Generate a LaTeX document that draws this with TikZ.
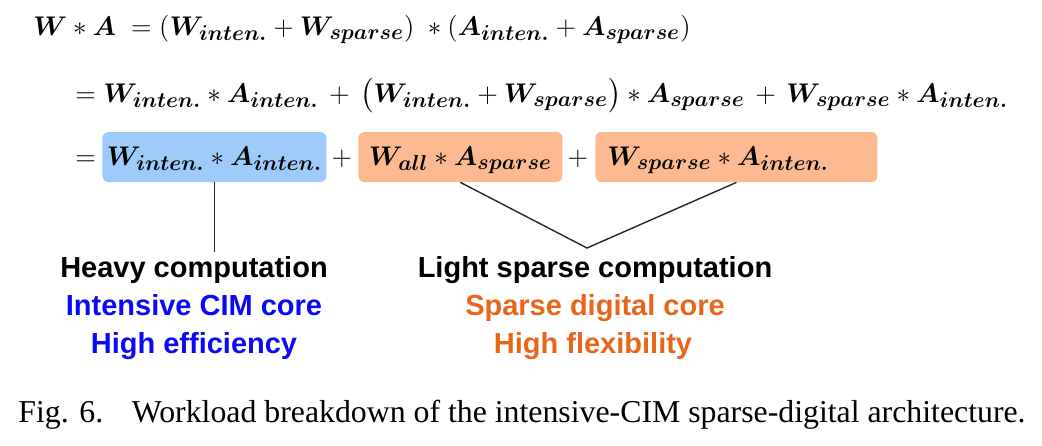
\RequirePackage{fix-cm}
\documentclass[tikz,border=0pt]{standalone}
\usepackage{amsmath}
\usepackage{bm}
\usepackage{fontspec}
\setsansfont{Liberation Sans}
\newfontfamily\captionfont{Liberation Serif}
\usepackage{xcolor}
\definecolor{boxblue}{RGB}{157,203,250}
\definecolor{boxorange}{RGB}{253,186,145}
\definecolor{cimblue}{RGB}{10,10,245}
\definecolor{digorange}{RGB}{232,102,28}
\DeclareMathSizes{13.5}{13.5}{10.8}{8}
\newcommand{\subtxt}[1]{_{\bm{#1}}}
\tikzset{
	eqline/.style={anchor=base west, inner sep=0pt, font=\fontsize{13.5}{16}\selectfont},
	termbox/.style={anchor=base west, inner ysep=0pt, inner xsep=0pt, rounded corners=3pt,
		text height=16.5pt, text depth=8.5pt, font=\fontsize{13.5}{16}\selectfont},
	heading/.style={anchor=base, inner sep=2pt, font=\sffamily\bfseries\fontsize{14.5}{17}\selectfont},
	link/.style={line width=0.7pt, black!85},
}

\begin{document}
\begin{tikzpicture}[x=0.5pt, y=-0.5pt]
	\useasboundingbox (0,0) rectangle (1042,445);
	% first two lines of the expansion
	\node[eqline] (line1) at (33,35) {$\bm{W} * \bm{A}\; = (\bm{W}\subtxt{inten.} + \bm{W}\subtxt{sparse})\; * (\bm{A}\subtxt{inten.} + \bm{A}\subtxt{sparse})$};
	\node[eqline] (line2) at (75,102) {$= \bm{W}\subtxt{inten.} * \bm{A}\subtxt{inten.}\, + \,\big(\bm{W}\subtxt{inten.} + \bm{W}\subtxt{sparse}\big) * \bm{A}\subtxt{sparse}\, + \,\bm{W}\subtxt{sparse} * \bm{A}\subtxt{inten.}$};
	% third line with the grouped terms
	\node[eqline] (eq3) at (75,165) {$=$};
	\node[termbox, fill=boxblue, minimum width=112pt] (inten) at (102,165) {$\bm{W}\subtxt{inten.} * \bm{A}\subtxt{inten.}$};
	\node[eqline, anchor=base] (plus1) at (342,165) {$+$};
	\node[termbox, fill=boxorange, minimum width=102pt] (wall) at (358,165) {$\bm{W}\subtxt{all} * \bm{A}\subtxt{sparse}$};
	\node[eqline, anchor=base] (plus2) at (578,165) {$+$};
	\node[termbox, fill=boxorange, text width=129pt, align=left, inner xsep=6pt] (wsparse) at (595,165) {$\bm{W}\subtxt{sparse} * \bm{A}\subtxt{inten.}$};
	% labels
	\node[heading] (heavy) at (194,277) {Heavy computation};
	\node[heading, text=cimblue] (cimcore) at (194,315) {Intensive CIM core};
	\node[heading, text=cimblue] (effic) at (194,353) {High efficiency};
	\node[heading] (light) at (595,277) {Light sparse computation};
	\node[heading, text=digorange] (digcore) at (595,315) {Sparse digital core};
	\node[heading, text=digorange] (flex) at (593,353) {High flexibility};
	\coordinate (apex) at (587,248);
	\draw[link] (inten.south) -- (inten.south |- heavy.north);
	\draw[link] (wall.south) -- (apex) -- (wsparse.south);
	% caption
	\node[anchor=base west, inner sep=0pt, font=\captionfont\fontsize{15.9}{19}\selectfont] (caption) at (18,422) {Fig. 6.\hspace{0.9em}Workload breakdown of the intensive-CIM sparse-digital architecture.};
\end{tikzpicture}
\end{document}
